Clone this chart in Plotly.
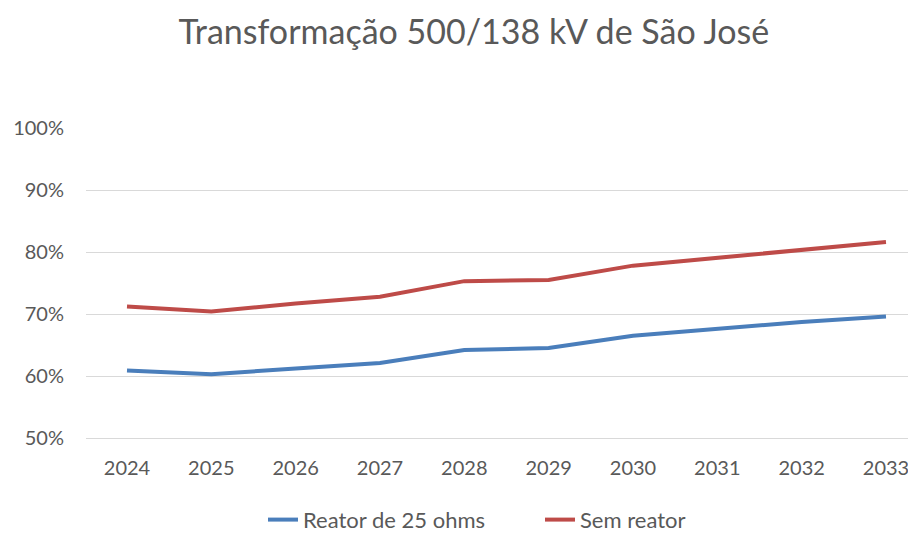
import plotly.graph_objects as go

years = ["2024", "2025", "2026", "2027", "2028", "2029", "2030", "2031", "2032", "2033"]
reator_25_ohms = [0.609, 0.603, 0.612, 0.621, 0.642, 0.645, 0.665, 0.676, 0.687, 0.696]
sem_reator = [0.712, 0.704, 0.717, 0.728, 0.753, 0.755, 0.778, 0.791, 0.804, 0.816]
y_ticks = [0.5, 0.6, 0.7, 0.8, 0.9, 1.0]

FONT = "Lato"
GRAY = "#595959"
GRID = "#d9d9d9"

fig = go.Figure()
fig.add_trace(go.Scatter(x=years, y=reator_25_ohms, mode="lines", name="Reator de 25 ohms",
                         line=dict(color="#4A7EBB", width=4)))
fig.add_trace(go.Scatter(x=years, y=sem_reator, mode="lines", name="Sem reator",
                         line=dict(color="#BE4B48", width=4)))

# page body has an 8px margin, so the figure is 8px smaller than the window
fig.update_layout(
    width=908, height=526,
    paper_bgcolor="white", plot_bgcolor="white",
    margin=dict(l=78, r=0, t=120, b=96),
    title=dict(text="Transformação 500/138 kV de São José", x=0.513, xanchor="center",
               y=0.955, yanchor="middle",
               font=dict(family=FONT, size=34, color=GRAY)),
    font=dict(family=FONT, color=GRAY),
    showlegend=True,
    legend=dict(orientation="h", xref="container", x=255 / 908, xanchor="left",
                yref="container", y=0.027, yanchor="middle",
                font=dict(family=FONT, size=22, color=GRAY),
                entrywidth=232, entrywidthmode="pixels", traceorder="normal"),
)
fig.update_xaxes(type="category", range=[-0.486, 9.356], showgrid=False,
                 showline=True, linecolor=GRID, linewidth=1,
                 ticks="outside", ticklen=12, tickcolor="rgba(0,0,0,0)",
                 tickfont=dict(family=FONT, size=20, color=GRAY))
fig.update_yaxes(range=[0.5, 1.0], tickvals=y_ticks, tickformat=".0%",
                 showgrid=True, gridcolor=GRID, gridwidth=1, zeroline=False,
                 ticks="outside", ticklen=17, tickcolor="rgba(0,0,0,0)",
                 tickfont=dict(family=FONT, size=20, color=GRAY))

fig.write_html("out.html")
